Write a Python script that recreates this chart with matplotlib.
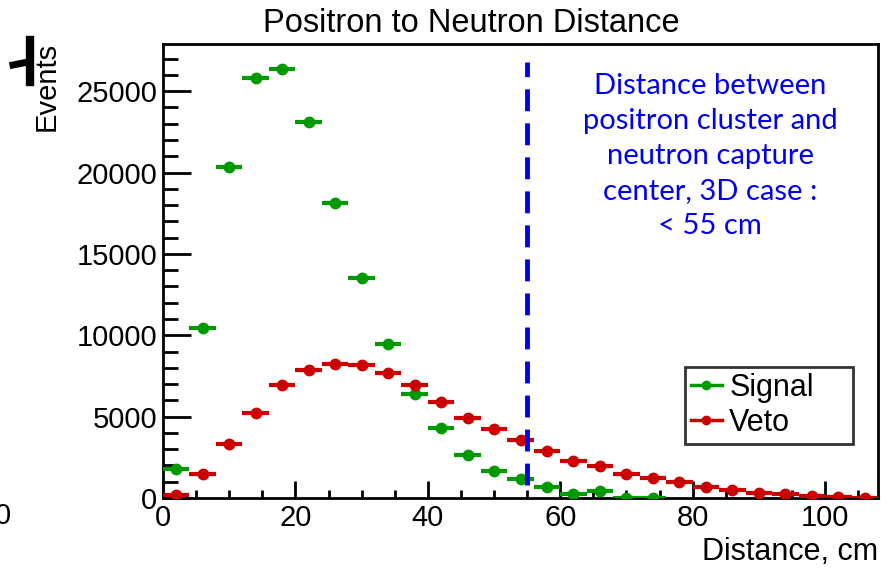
import numpy as np
import matplotlib
matplotlib.use("Agg")
import matplotlib.pyplot as plt
from matplotlib.lines import Line2D
from matplotlib.ticker import MultipleLocator

bin_centers = [2, 6, 10, 14, 18, 22, 26, 30, 34, 38, 42, 46, 50, 54, 58, 62, 66,
               70, 74, 78, 82, 86, 90, 94, 98, 102, 106]
signal = [1800, 10450, 20350, 25800, 26350, 23100, 18100, 13500, 9450, 6400, 4320,
          2620, 1660, 1170, 690, 250, 430, 20, 20, np.nan, np.nan, np.nan, np.nan,
          np.nan, np.nan, np.nan, np.nan]
veto = [200, 1450, 3340, 5240, 6940, 7840, 8230, 8150, 7680, 6940, 5920, 4930, 4220,
        3540, 2890, 2250, 1950, 1470, 1250, 980, 690, 490, 290, 250, 140, 80, 20]
bin_half_width = 2
cut_value = 55
cut_range = [800, 26800]
annotation = "Distance between\npositron cluster and\nneutron capture\ncenter, 3D case :\n< 55 cm"
series_labels = ['Signal', 'Veto']

plt.rcParams['font.family'] = ['Liberation Sans', 'DejaVu Sans']

fig = plt.figure(figsize=(8.93, 5.68), dpi=100)
W, H = 893, 568
ax = fig.add_axes([163 / W, 1 - 498 / H, (878 - 163) / W, (498 - 44) / H])

green = '#009a00'
red = '#cc0000'

x = np.array(bin_centers, dtype=float)
ax.errorbar(x, signal, xerr=bin_half_width, fmt='o', color=green, ms=7.5,
            elinewidth=3, capsize=0, zorder=3)
ax.errorbar(x, veto, xerr=bin_half_width, fmt='o', color=red, ms=7.5,
            elinewidth=3, capsize=0, zorder=4)

ax.plot([cut_value, cut_value], cut_range, color='#0000ee', lw=3.5,
        dashes=(4.5, 2.5), zorder=5)

ax.text(0.7655, 0.936, annotation, transform=ax.transAxes, ha='center', va='top',
        color='#0000f0', fontsize=21, family=['Lato', 'DejaVu Sans'], linespacing=1.43)

ax.set_xlim(0, 108)
ax.set_ylim(0, 27900)
ax.xaxis.set_major_locator(MultipleLocator(20))
ax.xaxis.set_minor_locator(MultipleLocator(5))
ax.yaxis.set_major_locator(MultipleLocator(5000))
ax.yaxis.set_minor_locator(MultipleLocator(1000))
ax.tick_params(axis='both', which='both', direction='in', top=False, right=False,
               labelsize=21, width=2, pad=4)
ax.tick_params(axis='y', which='major', length=20)
ax.tick_params(axis='y', which='minor', length=11)
ax.tick_params(axis='x', which='major', length=12)
ax.tick_params(axis='x', which='minor', length=6)
for s in ax.spines.values():
    s.set_linewidth(2)

fig.text(471 / W, 1 - 32 / H, 'Positron to Neutron Distance', fontsize=23.5,
         ha='center', va='baseline')
ax.set_ylabel('Events', fontsize=21)
ax.yaxis.set_label_coords(-0.143, 0.906)
ax.yaxis.label.set_va('bottom')
ax.set_xlabel('Distance, cm', fontsize=22)
ax.xaxis.set_label_coords(1.0, -0.085)
ax.xaxis.label.set_ha('right')

handles = [Line2D([], [], color=green, lw=2.5, marker='o', ms=6),
           Line2D([], [], color=red, lw=2.5, marker='o', ms=6)]
lx0 = (685 - 163) / 715
lw_ = (853 - 685) / 715
ltop = 1 - (367 - 44) / 454
lbot = 1 - (441 - 44) / 454
leg = ax.legend(handles, series_labels, loc='upper left',
                bbox_to_anchor=(lx0, lbot, lw_, ltop - lbot), mode='expand',
                fontsize=22, frameon=True, fancybox=False, edgecolor='black',
                borderpad=0.2, handlelength=1.0, handletextpad=0.25, labelspacing=0.15,
                borderaxespad=0)
leg.get_frame().set_linewidth(2)

# stray artifacts at the left edge
fig.add_artist(Line2D([30 / W, 30 / W], [1 - 40 / H, 1 - 82 / H], color='black', lw=6))
fig.add_artist(Line2D([13 / W, 28 / W], [1 - 65 / H, 1 - 62 / H], color='black', lw=5))
fig.text(11 / W, 1 - 516 / H, '0', ha='right', va='center', fontsize=21)

fig.savefig('out.png', dpi=100)
